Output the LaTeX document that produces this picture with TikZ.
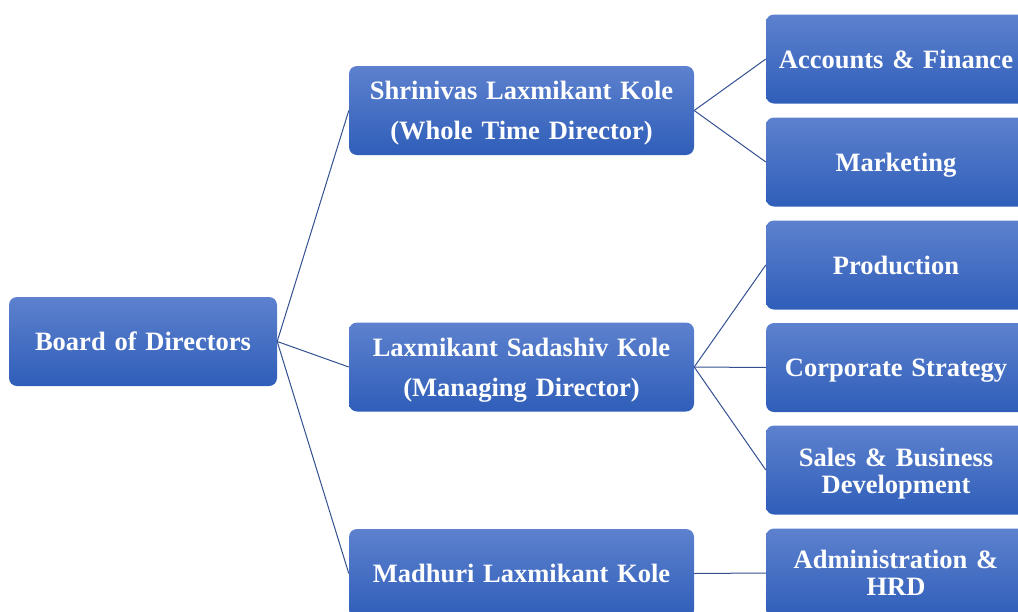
\documentclass[tikz,border=0pt]{standalone}
\usepackage{fontspec}
\setmainfont{Liberation Serif}
\definecolor{boxtop}{RGB}{93,129,206}
\definecolor{boxbot}{RGB}{47,94,185}
\definecolor{edgecol}{RGB}{52,80,145}
\newcommand{\droptext}[1]{\par\vspace*{-#1}}
\begin{document}
\begin{tikzpicture}[x=1pt,y=-1pt,
  orgbox/.style={rectangle, rounded corners=8pt, top color=boxtop, bottom color=boxbot,
    draw=none, text=white, align=center, inner sep=0pt,
    minimum height=89pt},
  oneline/.style={text depth=0pt},
  lvlone/.style={orgbox, minimum width=268pt, text width=262pt,
    font=\fontsize{26.5}{40}\selectfont\bfseries},
  lvltwo/.style={orgbox, minimum width=345pt, text width=335pt,
    font=\fontsize{26.5}{40}\selectfont\bfseries},
  lvlthree/.style={orgbox, minimum width=260pt, text width=250pt,
    font=\fontsize{26.5}{27}\selectfont\bfseries},
  link/.style={draw=edgecol, line width=1pt}]
\useasboundingbox (0,0) rectangle (1018,611);
\clip (0,0) rectangle (1018,611);

\node[lvlone, oneline] (board) at (143,341.5) {Board of Directors};

\node[lvltwo] (wtd) at (521.5,110.5) {Shrinivas Laxmikant Kole\\(Whole Time Director)\droptext{6pt}};
\node[lvltwo] (md) at (521.5,367) {Laxmikant Sadashiv Kole\\(Managing Director)\droptext{7pt}};
\node[lvltwo, oneline] (mk) at (521.5,573.5) {Madhuri Laxmikant Kole};

\node[lvlthree, oneline] (acc) at (896,59) {Accounts \& Finance};
\node[lvlthree, oneline] (mkt) at (896,162) {Marketing};
\node[lvlthree, oneline] (prod) at (896,265) {Production};
\node[lvlthree, oneline] (corp) at (896,367.5) {Corporate Strategy};
\node[lvlthree] (sales) at (896,470) {Sales \& Business\\Development\droptext{8pt}};
\node[lvlthree] (admin) at (896,573) {Administration \&\\HRD};

\draw[link] (board.east) -- (wtd.west);
\draw[link] (board.east) -- (md.west);
\draw[link] (board.east) -- (mk.west);
\draw[link] (wtd.east) -- (acc.west);
\draw[link] (wtd.east) -- (mkt.west);
\draw[link] (md.east) -- (prod.west);
\draw[link] (md.east) -- (corp.west);
\draw[link] (md.east) -- (sales.west);
\draw[link] (mk.east) -- (admin.west);
\end{tikzpicture}
\end{document}
